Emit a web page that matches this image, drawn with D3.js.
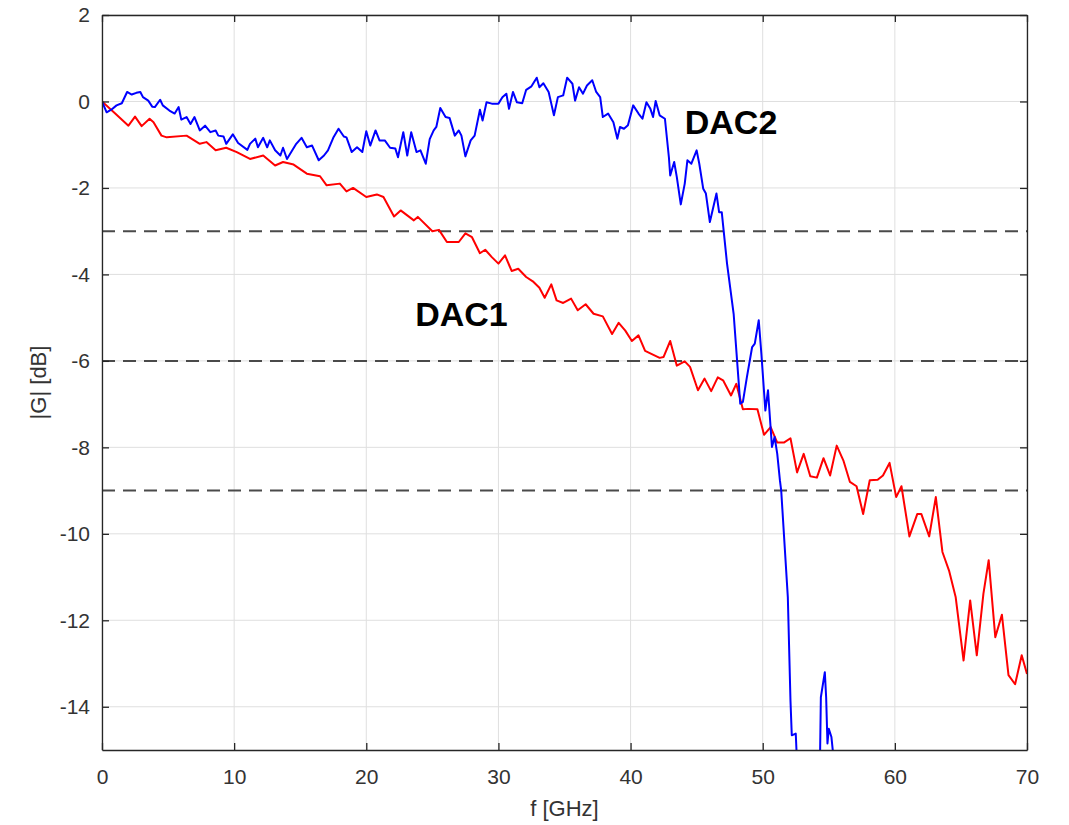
<!DOCTYPE html>
<html>
<head>
<meta charset="utf-8">
<script src="https://cdn.jsdelivr.net/npm/d3@7"></script>
<style>
  html, body { margin: 0; padding: 0; background: #fff; }
  svg { display: block; }
  text { font-family: "Liberation Sans", Arial, Helvetica, sans-serif; }
</style>
</head>
<body>
<svg id="chart" width="1069" height="825"></svg>
<script>
// ---------- data ----------
const xTicks = [0, 10, 20, 30, 40, 50, 60, 70];
const yTicks = [2, 0, -2, -4, -6, -8, -10, -12, -14];
const refLevels = [-3, -6, -9];
const xLabel = "f [GHz]";
const yLabel = "|G| [dB]";
const labelNames = ["DAC1", "DAC2"];
const labelAnchors = [[23.7, -5.2], [44.1, -0.75]]; // [f, dB] of text start/baseline

const dac1Freq = [0,1.0,2.0,2.5,3.0,3.6,3.9,4.5,4.9,6.4,7.4,7.9,8.6,9.4,10.2,11.2,12.2,13.1,13.7,14.5,15.5,16.5,17.0,18.0,18.5,19.0,20.0,20.8,21.3,22.1,22.6,23.6,23.9,25.0,25.5,26.1,27.0,27.5,28.0,28.6,29.0,29.5,30.0,30.5,31.0,31.5,32.1,32.6,33.1,33.5,34.0,34.4,34.9,35.5,36.0,36.6,37.2,37.9,38.6,39.1,39.6,40.1,40.6,41.1,42.2,42.5,43.0,43.5,44.1,44.5,45.1,45.6,46.1,46.6,47.0,47.6,48.0,48.5,48.9,49.6,50.1,50.6,51.1,51.6,52.1,52.6,53.1,53.6,54.1,54.6,55.1,55.6,56.1,56.6,57.1,57.6,58.1,58.7,59.1,59.6,60.1,60.5,61.1,61.7,62.0,62.6,63.1,63.6,64.1,64.6,65.2,65.7,66.2,66.7,67.1,67.6,68.1,68.6,69.1,69.6,70.0];
const dac1Gain = [0,-0.28,-0.56,-0.35,-0.57,-0.40,-0.48,-0.79,-0.83,-0.79,-0.98,-0.94,-1.13,-1.07,-1.17,-1.33,-1.25,-1.48,-1.40,-1.46,-1.67,-1.73,-1.94,-1.90,-2.08,-2.00,-2.21,-2.15,-2.21,-2.66,-2.52,-2.75,-2.67,-3.00,-2.97,-3.25,-3.25,-3.05,-3.14,-3.51,-3.43,-3.60,-3.75,-3.56,-3.92,-3.87,-4.06,-4.16,-4.31,-4.54,-4.23,-4.60,-4.66,-4.56,-4.83,-4.69,-4.91,-4.97,-5.38,-5.12,-5.30,-5.54,-5.41,-5.77,-5.93,-5.91,-5.54,-6.11,-6.01,-6.14,-6.68,-6.41,-6.70,-6.38,-6.45,-6.80,-6.53,-7.12,-7.11,-7.12,-7.71,-7.53,-7.89,-7.89,-7.79,-8.58,-8.15,-8.67,-8.70,-8.25,-8.65,-7.96,-8.30,-8.80,-8.90,-9.54,-8.76,-8.75,-8.65,-8.36,-9.15,-8.90,-10.06,-9.54,-9.54,-10.06,-9.15,-10.42,-10.85,-11.46,-12.93,-11.54,-12.81,-11.39,-10.61,-12.39,-11.87,-13.27,-13.48,-12.81,-13.24];

const dac2Freq = [0,0.35,0.7,1.1,1.5,1.9,2.25,2.6,2.9,3.1,3.5,3.8,4.0,4.4,4.6,5.1,5.5,5.8,6.0,6.4,6.7,7.0,7.4,7.8,8.2,8.6,8.8,9.2,9.4,9.9,10.3,11.0,11.2,11.6,11.8,12.2,12.5,12.7,13.1,13.5,13.7,14.0,14.4,14.7,15.1,15.5,15.9,16.4,16.8,17.1,17.5,17.9,18.3,18.5,18.9,19.3,19.7,20.0,20.3,20.7,21.0,21.4,21.8,22.2,22.4,22.8,23.1,23.4,23.8,24.1,24.5,24.8,25.1,25.3,25.6,26.0,26.3,26.7,27.0,27.2,27.5,27.9,28.2,28.6,28.8,29.1,29.5,30.0,30.3,30.6,30.8,31.1,31.4,31.8,32.1,32.5,32.9,33.1,33.4,33.8,34.0,34.2,34.5,34.9,35.2,35.6,35.8,36.1,36.4,36.7,37.1,37.4,37.7,37.9,38.3,38.7,39.0,39.2,39.5,39.8,40.2,40.6,40.9,41.2,41.5,41.7,41.9,42.2,42.6,42.9,43.0,43.3,43.5,43.8,44.1,44.3,44.6,45.0,45.2,45.5,45.7,46.0,46.5,46.7,46.9,47.3,47.8,48.3,48.5,48.8,49.2,49.4,49.7,49.9,50.2,50.4,50.7,50.9,51.1,51.3,51.4,51.9,52.1,52.2,52.5,52.7,54.3,54.4,54.7,54.8,54.9,55.0,55.2,55.4];
const dac2Gain = [0,-0.25,-0.19,-0.09,-0.04,0.22,0.16,0.20,0.22,0.10,0.02,-0.12,-0.13,0.04,-0.09,-0.21,-0.28,-0.13,-0.42,-0.36,-0.52,-0.36,-0.67,-0.56,-0.71,-0.67,-0.79,-0.81,-0.98,-0.76,-0.96,-1.12,-0.98,-0.86,-1.06,-0.84,-1.06,-0.90,-1.13,-1.25,-1.07,-1.33,-1.13,-0.98,-0.84,-1.06,-1.02,-1.36,-1.25,-1.13,-0.84,-0.63,-0.81,-0.83,-1.17,-1.06,-1.17,-0.69,-1.02,-0.67,-0.90,-0.90,-1.07,-1.09,-1.29,-0.71,-1.25,-0.71,-1.17,-1.13,-1.44,-0.87,-0.67,-0.59,-0.15,-0.36,-0.38,-0.79,-0.67,-0.79,-1.27,-0.90,-0.79,-0.19,-0.44,-0.02,-0.05,-0.05,0.10,0.18,-0.17,0.22,-0.02,-0.04,0.27,0.35,0.55,0.33,0.42,0.22,-0.05,-0.32,0.10,0.14,0.55,0.41,0.02,0.33,0.18,0.37,0.49,0.22,0.10,-0.36,-0.28,-0.48,-0.86,-0.59,-0.63,-0.55,-0.09,-0.28,-0.40,-0.02,-0.17,-0.36,0.01,-0.32,-0.40,-1.29,-1.71,-1.40,-1.75,-2.38,-1.90,-1.36,-1.44,-1.13,-1.44,-2.02,-2.13,-2.79,-2.13,-2.56,-2.56,-3.75,-4.91,-6.99,-6.95,-6.38,-5.68,-5.60,-5.06,-5.84,-7.15,-6.68,-7.99,-7.76,-8.15,-8.76,-9.0,-11.46,-13.85,-14.66,-14.62,-16,-16,-13.78,-13.20,-13.78,-14.85,-14.51,-14.70,-15.3];

const seriesColors = ["#ff0000", "#0000ff"];

// ---------- layout ----------
const svg = d3.select("#chart");
const L = 102, R = 1027, T = 15, B = 750;
const x = d3.scaleLinear().domain([0, 70]).range([L, R]);
const y = d3.scaleLinear().domain([-15, 2]).range([B, T]);
const axisColor = "#262626";
const tickFmt = d => String(d);

svg.append("defs").append("clipPath").attr("id", "plotclip")
  .append("rect").attr("x", L).attr("y", T).attr("width", R - L).attr("height", B - T);

// grid
const grid = svg.append("g");
grid.selectAll("line.gx").data(xTicks).join("line")
  .attr("x1", d => x(d)).attr("x2", d => x(d)).attr("y1", T).attr("y2", B)
  .attr("stroke", "#dfdfdf").attr("stroke-width", 1);
grid.selectAll("line.gy").data(yTicks).join("line")
  .attr("x1", L).attr("x2", R).attr("y1", d => y(d)).attr("y2", d => y(d))
  .attr("stroke", "#dfdfdf").attr("stroke-width", 1);

// dashed reference levels
svg.append("g").selectAll("line").data(refLevels).join("line")
  .attr("x1", L).attr("x2", R).attr("y1", d => y(d)).attr("y2", d => y(d))
  .attr("stroke", "#4a4a4a").attr("stroke-width", 2).attr("stroke-dasharray", "13,8");

// series
const line = d3.line().x(d => x(d[0])).y(d => y(d[1]));
const dac1 = dac1Freq.map((f, i) => [f, dac1Gain[i]]);
const dac2 = dac2Freq.map((f, i) => [f, dac2Gain[i]]);
const plot = svg.append("g").attr("clip-path", "url(#plotclip)");
[dac1, dac2].forEach((s, i) => {
  plot.append("path").datum(s).attr("d", line)
    .attr("fill", "none").attr("stroke", seriesColors[i])
    .attr("stroke-width", 2).attr("stroke-linejoin", "round");
});

// axes
function styleAxis(g, fs) {
  g.select(".domain").attr("stroke", axisColor).attr("stroke-width", 1.3);
  g.selectAll(".tick line").attr("stroke", axisColor).attr("stroke-width", 1.3);
  g.selectAll(".tick text").attr("fill", "#333").attr("font-size", fs)
    .attr("font-family", '"Liberation Sans", Arial, sans-serif');
}
svg.append("g").attr("transform", `translate(0,${B})`)
  .call(d3.axisBottom(x).tickValues(xTicks).tickSizeInner(-7).tickSizeOuter(0).tickPadding(19).tickFormat(tickFmt))
  .call(g => styleAxis(g, 21));
svg.append("g").attr("transform", `translate(${L},0)`)
  .call(d3.axisLeft(y).tickValues(yTicks).tickSizeInner(-7).tickSizeOuter(0).tickPadding(12).tickFormat(tickFmt))
  .call(g => styleAxis(g, 21));
svg.append("g").attr("transform", `translate(0,${T})`)
  .call(d3.axisTop(x).tickValues(xTicks).tickSizeInner(-7).tickSizeOuter(0).tickFormat(""))
  .call(g => styleAxis(g, 21));
svg.append("g").attr("transform", `translate(${R},0)`)
  .call(d3.axisRight(y).tickValues(yTicks).tickSizeInner(-7).tickSizeOuter(0).tickFormat(""))
  .call(g => styleAxis(g, 21));

// axis labels
svg.append("text").attr("x", (L + R) / 2).attr("y", 816).attr("text-anchor", "middle")
  .attr("font-size", 22).attr("fill", "#333").text(xLabel);
svg.append("text").attr("transform", `translate(46,${(T + B) / 2}) rotate(-90)`)
  .attr("text-anchor", "middle").attr("font-size", 22).attr("fill", "#333").text(yLabel);

// annotations
svg.append("g").selectAll("text").data(labelNames).join("text")
  .attr("x", (d, i) => x(labelAnchors[i][0]))
  .attr("y", (d, i) => y(labelAnchors[i][1]))
  .attr("font-size", 34).attr("font-weight", "bold").attr("fill", "#000")
  .text(d => d);
</script>
</body>
</html>
